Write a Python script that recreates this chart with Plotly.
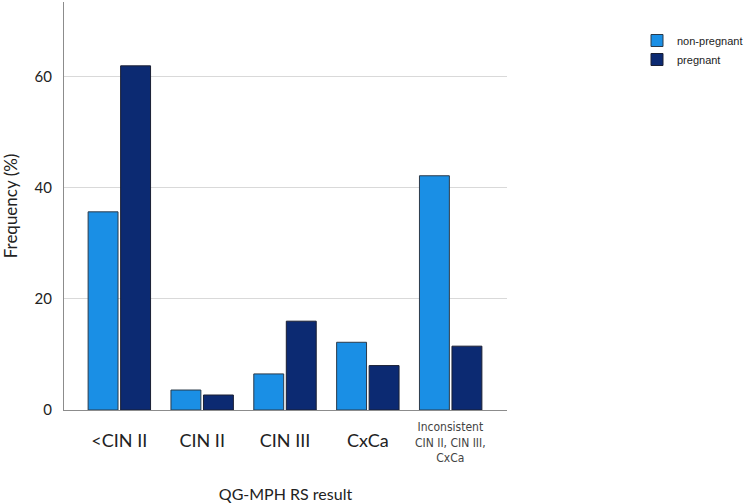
import plotly.graph_objects as go

categories = ["<CIN II", "CIN II", "CIN III", "CxCa", "Inconsistent CIN II, CIN III, CxCa"]
tick_labels = ["&lt;CIN II", "CIN II", "CIN III", "CxCa", ""]
non_pregnant = [35.7, 3.6, 6.5, 12.2, 42.2]
pregnant = [62.0, 2.7, 16.0, 8.0, 11.5]
y_ticks = [0, 20, 40, 60]

font_main = "Lato, 'Open Sans', sans-serif"
x_idx = list(range(len(categories)))

fig = go.Figure()
fig.add_trace(go.Bar(x=x_idx, y=non_pregnant, name="non-pregnant",
                     marker=dict(color="#1a8fe5", line=dict(color="#2b3a4a", width=1))))
fig.add_trace(go.Bar(x=x_idx, y=pregnant, name="pregnant",
                     marker=dict(color="#0c2a72", line=dict(color="#1a1f33", width=1))))

fig.update_layout(
    width=750, height=504,
    margin=dict(l=64, r=243, t=2, b=94, autoexpand=False),
    paper_bgcolor="white", plot_bgcolor="white",
    barmode="group", bargap=0.215, bargroupgap=0.08,
    font=dict(family=font_main, color="#222222"),
    showlegend=True,
    legend=dict(xref="container", yref="container", x=637 / 750, y=1 - 26 / 504,
                xanchor="left", yanchor="top",
                font=dict(family="Liberation Sans, Arial, sans-serif", size=11, color="#222222"),
                itemwidth=30, tracegroupgap=0, bgcolor="rgba(0,0,0,0)"),
    xaxis=dict(
        range=[-0.668, 4.68], tickmode="array", tickvals=x_idx, ticktext=tick_labels,
        showgrid=False, zeroline=False, showline=True, linecolor="#8c8c8c", linewidth=1,
        ticks="", tickfont=dict(size=18, color="#222222"), ticklabelstandoff=14,
        title=dict(text="QG-MPH RS result", font=dict(size=16, color="#222222"), standoff=39),
    ),
    yaxis=dict(
        range=[0, 73.5], tickmode="array", tickvals=y_ticks,
        showgrid=True, gridcolor="#d9d9d9", gridwidth=1,
        zeroline=False, showline=True, linecolor="#8c8c8c", linewidth=1,
        ticks="", tickfont=dict(size=15, color="#222222"), ticklabelstandoff=8,
        title=dict(text="Frequency (%)", font=dict(size=17, color="#222222"), standoff=20),
    ),
)

fig.add_annotation(
    x=4, y=0, xref="x", yref="paper", yanchor="top", xanchor="center", yshift=-8,
    text="Inconsistent<br>CIN II, CIN III,<br>CxCa", showarrow=False,
    font=dict(family="'DejaVu Sans Condensed', 'Liberation Sans Narrow', sans-serif", size=12, color="#444444"),
)

fig.write_html("out.html")
